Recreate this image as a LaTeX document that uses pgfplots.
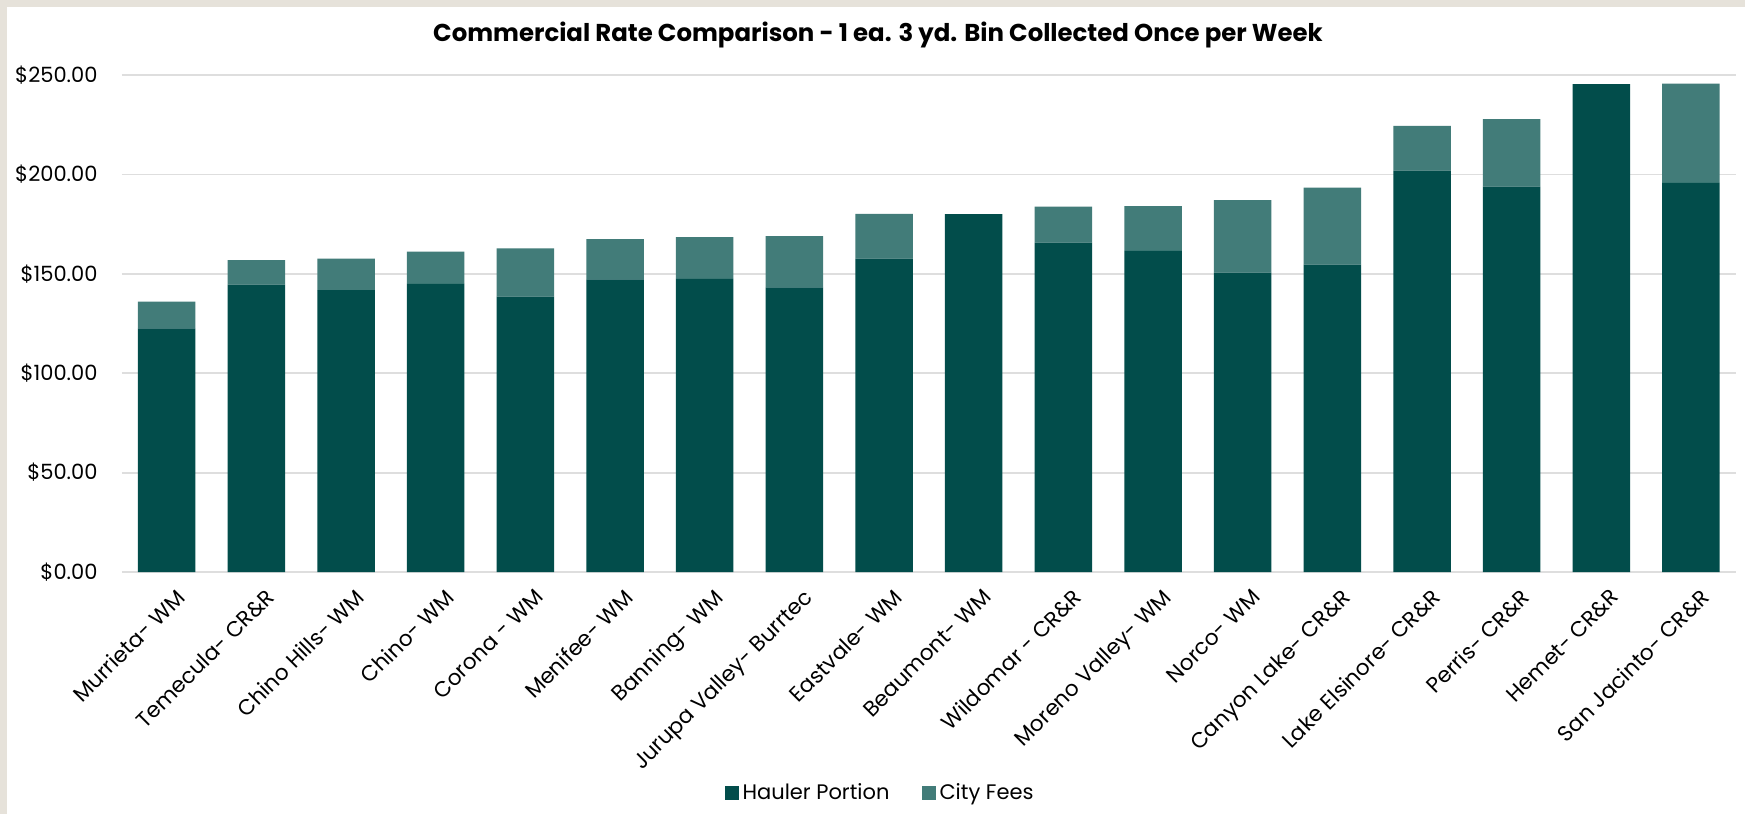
\documentclass[border=0pt]{standalone}
\usepackage{pgfplots}
\pgfplotsset{compat=1.18}
\usepackage{fontspec}
\setmainfont{Poppins}
\definecolor{hauler}{HTML}{024D4B}
\definecolor{cityfees}{HTML}{427C79}
\definecolor{bgbeige}{HTML}{E6E2DA}
\definecolor{gridgray}{HTML}{DEDEDE}
\begin{document}
\begin{tikzpicture}
\fill[bgbeige] (0pt,0pt) rectangle (872.5pt,407pt);
\fill[white] (3.5pt,0pt) rectangle (872.5pt,403.5pt);
\useasboundingbox (0pt,0pt) rectangle (872.5pt,407pt);
\node[font=\bfseries\fontsize{12.2}{14}\selectfont] at (439pt,389.5pt) {Commercial Rate Comparison - 1 ea. 3 yd. Bin Collected Once per Week};
\begin{axis}[
  at={(60.95pt,121pt)}, anchor=south west,
  scale only axis, width=806.95pt, height=248.5pt,
  ybar stacked, bar width=28.75pt,
  xmin=-0.5, xmax=17.5, ymin=0, ymax=250,
  xtick={0,...,17},
  xticklabels={Murrieta- WM,Temecula- CR\&R,Chino Hills- WM,Chino- WM,Corona - WM,Menifee- WM,Banning- WM,Jurupa Valley- Burrtec,Eastvale- WM,Beaumont- WM,Wildomar - CR\&R,Moreno Valley- WM,Norco- WM,Canyon Lake- CR\&R,Lake Elsinore- CR\&R,Perris- CR\&R,Hemet- CR\&R,San Jacinto- CR\&R},
  ytick={0,50,100,150,200,250},
  yticklabels={\$0.00,\$50.00,\$100.00,\$150.00,\$200.00,\$250.00},
  axis line style={draw=none},
  major tick length=0pt,
  ymajorgrids, major grid style={gridgray, line width=0.9pt},
  yticklabel style={font=\fontsize{10.5}{12}\selectfont, inner sep=0pt, anchor=east, xshift=-12pt},
  xticklabel style={font=\fontsize{10.8}{12}\selectfont, inner sep=0pt, xshift=4pt, yshift=-7.5pt, rotate=45, anchor=north east},
  legend style={at={(0.4704,-0.4447)}, anchor=center, draw=none, fill=none, legend columns=2,
    font=\fontsize{10.5}{12}\selectfont,
    /tikz/every even column/.append style={column sep=14pt}},
  legend image code/.code={\fill[#1] (0pt,-3.5pt) rectangle (7pt,3.5pt);},
]
\addplot[fill=hauler, draw=none] coordinates {
(0,122.5) (1,144.5) (2,141.8) (3,144.9) (4,138.5) (5,147.2) (6,147.5) (7,143.2) (8,157.6)
(9,180.0) (10,165.7) (11,161.5) (12,150.6) (13,154.6) (14,201.9) (15,193.9) (16,245.4) (17,195.7)};
\addplot[fill=cityfees, draw=none] coordinates {
(0,13.5) (1,12.4) (2,15.8) (3,16.2) (4,24.3) (5,20.2) (6,21.0) (7,25.8) (8,22.5)
(9,0) (10,18.1) (11,22.6) (12,36.4) (13,38.8) (14,22.5) (15,33.9) (16,0) (17,50.0)};
\legend{Hauler Portion, City Fees}
\end{axis}
\end{tikzpicture}
\end{document}
